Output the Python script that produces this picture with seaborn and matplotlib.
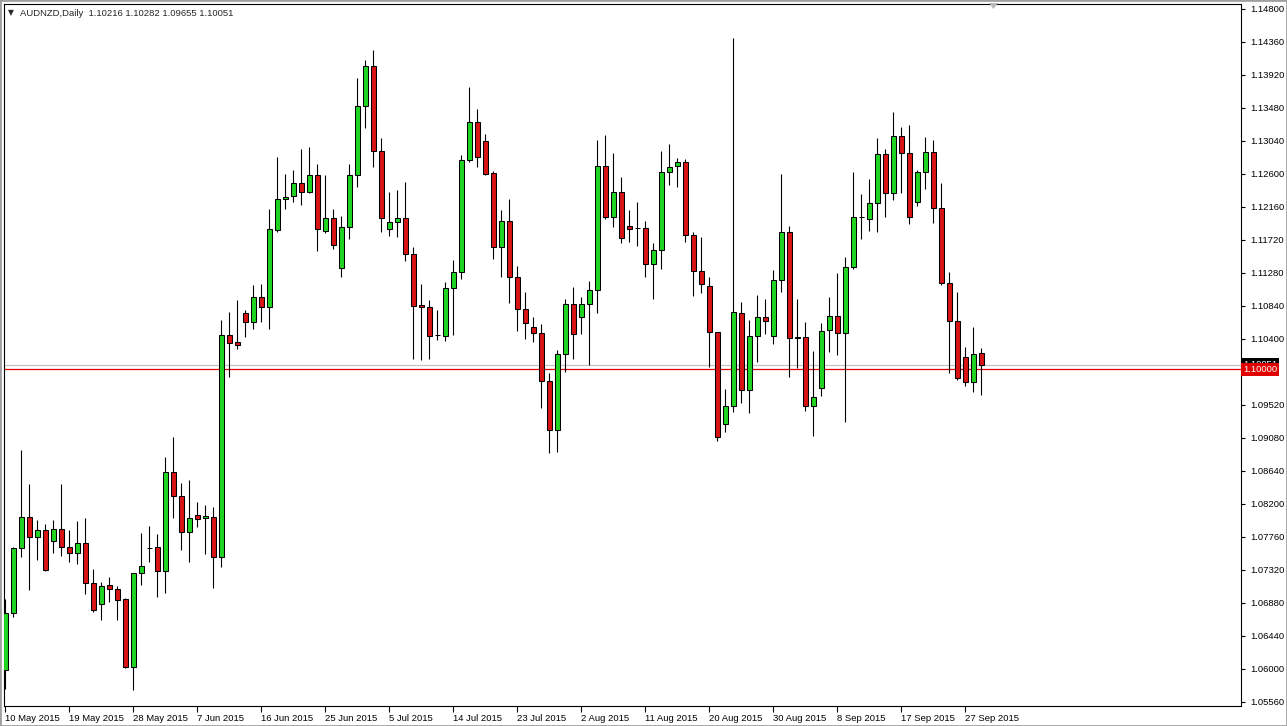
import numpy as np
import pandas as pd
import matplotlib
matplotlib.use("Agg")
import matplotlib.pyplot as plt
import matplotlib.transforms as mtransforms
from matplotlib.patches import Rectangle, Polygon
import seaborn as sns

sns.set_style("white")
plt.rcParams["font.family"] = ["Liberation Sans", "DejaVu Sans"]

# AUDNZD daily bars (10 May 2015 - 29 Sep 2015, Sunday bars included)
opens = [1.0599, 1.0675, 1.0761, 1.0802, 1.0776, 1.0785, 1.0771, 1.0786, 1.0763, 1.0754,
         1.0768, 1.0715, 1.0686, 1.0712, 1.0707, 1.0693, 1.0603, 1.0728, 1.0761, 1.0762,
         1.0730, 1.0863, 1.0830, 1.0782, 1.0805, 1.0801, 1.0803, 1.0749, 1.1045, 1.1036,
         1.1074, 1.1062, 1.1096, 1.1083, 1.1185, 1.1226, 1.1231, 1.1248, 1.1236, 1.1259,
         1.1184, 1.1201, 1.1134, 1.1189, 1.1259, 1.1351, 1.1404, 1.1290, 1.1186, 1.1196,
         1.1201, 1.1153, 1.1085, 1.1082, 1.1045, 1.1044, 1.1108, 1.1129, 1.1278, 1.1329,
         1.1304, 1.1261, 1.1163, 1.1197, 1.1123, 1.1080, 1.1056, 1.1048, 1.0984, 1.0918,
         1.1020, 1.1087, 1.1069, 1.1087, 1.1105, 1.1271, 1.1202, 1.1236, 1.1190, 1.1188,
         1.1188, 1.1140, 1.1158, 1.1262, 1.1270, 1.1276, 1.1178, 1.1130, 1.1111, 1.1049,
         1.0926, 1.0950, 1.1075, 1.0972, 1.1044, 1.1069, 1.1044, 1.1118, 1.1183, 1.1041,
         1.1043, 1.0951, 1.0974, 1.1052, 1.1070, 1.1048, 1.1136, 1.1202, 1.1200, 1.1221,
         1.1287, 1.1235, 1.1311, 1.1288, 1.1222, 1.1262, 1.1289, 1.1214, 1.1115, 1.1064,
         1.1016, 1.0982, 1.10216]
highs = [1.0693, 1.0763, 1.0892, 1.0847, 1.0799, 1.0793, 1.0799, 1.0847, 1.0785, 1.0797,
         1.0801, 1.0733, 1.0716, 1.0723, 1.0711, 1.0695, 1.0728, 1.0781, 1.0791, 1.0780,
         1.0883, 1.0909, 1.0848, 1.0852, 1.0823, 1.0819, 1.0816, 1.1065, 1.1076, 1.1092,
         1.1079, 1.1112, 1.1113, 1.1213, 1.1283, 1.1260, 1.1265, 1.1293, 1.1296, 1.1273,
         1.1259, 1.1213, 1.1204, 1.1274, 1.1388, 1.1412, 1.1425, 1.1308, 1.1236, 1.1239,
         1.1250, 1.1163, 1.1114, 1.1092, 1.1079, 1.1116, 1.1145, 1.1285, 1.1376, 1.1347,
         1.1313, 1.1264, 1.1212, 1.1227, 1.1137, 1.1102, 1.1069, 1.1060, 1.0995, 1.1025,
         1.1093, 1.1110, 1.1096, 1.1118, 1.1305, 1.1312, 1.1288, 1.1256, 1.1212, 1.1223,
         1.1198, 1.1168, 1.1291, 1.1300, 1.1281, 1.1280, 1.1182, 1.1176, 1.1122, 1.1050,
         1.0973, 1.1441, 1.1090, 1.1065, 1.1099, 1.1093, 1.1132, 1.1260, 1.1191, 1.1093,
         1.1063, 1.1024, 1.1061, 1.1096, 1.1128, 1.1149, 1.1262, 1.1233, 1.1254, 1.1308,
         1.1293, 1.1342, 1.1322, 1.1325, 1.1265, 1.1309, 1.1305, 1.1248, 1.1129, 1.1102,
         1.1030, 1.1056, 1.10282]
lows = [1.0574, 1.0669, 1.0750, 1.0705, 1.0745, 1.0731, 1.0755, 1.0751, 1.0742, 1.0740,
        1.0700, 1.0676, 1.0665, 1.0689, 1.0665, 1.0601, 1.0572, 1.0712, 1.0743, 1.0696,
        1.0701, 1.0801, 1.0759, 1.0742, 1.0790, 1.0753, 1.0708, 1.0736, 1.0989, 1.1026,
        1.1043, 1.1054, 1.1063, 1.1054, 1.1182, 1.1213, 1.1223, 1.1219, 1.1235, 1.1158,
        1.1181, 1.1160, 1.1122, 1.1173, 1.1243, 1.1321, 1.1269, 1.1183, 1.1177, 1.1176,
        1.1144, 1.1014, 1.1012, 1.1014, 1.1039, 1.1038, 1.1045, 1.1120, 1.1276, 1.1269,
        1.1259, 1.1147, 1.1123, 1.1088, 1.1051, 1.1040, 1.1036, 1.0948, 1.0888, 1.0890,
        1.0996, 1.1014, 1.1047, 1.1005, 1.1075, 1.1200, 1.1189, 1.1168, 1.1170, 1.1164,
        1.1123, 1.1093, 1.1133, 1.1245, 1.1242, 1.1170, 1.1098, 1.1101, 1.1002, 1.0904,
        1.0916, 1.0943, 1.0955, 1.0941, 1.1010, 1.1046, 1.1033, 1.1102, 1.0989, 1.1001,
        1.0944, 1.0911, 1.0964, 1.1023, 1.1019, 1.0930, 1.1134, 1.1174, 1.1184, 1.1183,
        1.1203, 1.1225, 1.1235, 1.1194, 1.1217, 1.1240, 1.1195, 1.1112, 1.0995, 1.0986,
        1.0977, 1.0970, 1.09655]
closes = [1.0675, 1.0761, 1.0802, 1.0776, 1.0785, 1.0732, 1.0786, 1.0762, 1.0754, 1.0768,
          1.0715, 1.0679, 1.0711, 1.0707, 1.0692, 1.0603, 1.0728, 1.0737, 1.0761, 1.0730,
          1.0863, 1.0830, 1.0782, 1.0801, 1.0800, 1.0804, 1.0749, 1.1045, 1.1035, 1.1032,
          1.1063, 1.1096, 1.1083, 1.1186, 1.1226, 1.1229, 1.1248, 1.1236, 1.1259, 1.1186,
          1.1201, 1.1165, 1.1189, 1.1259, 1.1351, 1.1404, 1.1290, 1.1201, 1.1196, 1.1201,
          1.1153, 1.1084, 1.1082, 1.1044, 1.1045, 1.1108, 1.1129, 1.1279, 1.1329, 1.1283,
          1.1260, 1.1163, 1.1197, 1.1123, 1.1080, 1.1061, 1.1048, 1.0984, 1.0918, 1.1020,
          1.1087, 1.1046, 1.1087, 1.1105, 1.1271, 1.1202, 1.1236, 1.1174, 1.1187, 1.1188,
          1.1140, 1.1158, 1.1262, 1.1269, 1.1276, 1.1178, 1.1130, 1.1113, 1.1049, 1.0909,
          1.0950, 1.1076, 1.0972, 1.1044, 1.1069, 1.1064, 1.1118, 1.1183, 1.1041, 1.1043,
          1.0951, 1.0962, 1.1051, 1.1071, 1.1048, 1.1136, 1.1202, 1.1202, 1.1221, 1.1287,
          1.1235, 1.1311, 1.1288, 1.1203, 1.1263, 1.1289, 1.1214, 1.1115, 1.1064, 1.0988,
          1.0983, 1.1020, 1.10051]

date_ticks = [0, 8, 16, 24, 32, 40, 48, 56, 64, 72, 80, 88, 96, 104, 112, 120]
date_labels = ["10 May 2015", "19 May 2015", "28 May 2015", "7 Jun 2015", "16 Jun 2015",
               "25 Jun 2015", "5 Jul 2015", "14 Jul 2015", "23 Jul 2015", "2 Aug 2015",
               "11 Aug 2015", "20 Aug 2015", "30 Aug 2015", "8 Sep 2015", "17 Sep 2015",
               "27 Sep 2015"]
price_ticks = [1.14800, 1.14360, 1.13920, 1.13480, 1.13040, 1.12600, 1.12160, 1.11720,
               1.11280, 1.10840, 1.10400, 1.09520, 1.09080, 1.08640, 1.08200, 1.07760,
               1.07320, 1.06880, 1.06440, 1.06000, 1.05560]
hline_level = 1.10000
bid_level = 1.10051
title = "AUDNZD,Daily  1.10216 1.10282 1.09655 1.10051"

df = pd.DataFrame({"open": opens, "high": highs, "low": lows, "close": closes})
df["bar"] = np.arange(len(df))
df["up"] = df["close"] >= df["open"]
df["body_lo"] = df[["open", "close"]].min(axis=1)
df["body_h"] = (df["close"] - df["open"]).abs()

W, H = 1287, 726
fig = plt.figure(figsize=(W / 100, H / 100), dpi=100)
fig.patch.set_facecolor("white")
ax = fig.add_axes([4 / W, 20 / H, 1237 / W, 702 / H])

green = "#22d422"
red = "#d81414"

# wicks then bodies
ax.vlines(df["bar"], df["low"], df["high"], color="black", lw=0.8, zorder=2)
ax.bar(df["bar"], df["body_h"], bottom=df["body_lo"], width=0.62,
       color=np.where(df["up"], green, red), edgecolor="black", linewidth=0.75, zorder=3)

ax.axhline(bid_level, color="#c4c4c4", lw=0.9, zorder=1)
ax.axhline(hline_level, color="#e00000", lw=0.9, zorder=1)

ax.set_xlim((4 - 5.3) / 8, (1241 - 5.3) / 8)
ax.set_ylim(1.148 - 697 / 7500, 1.148 + 5 / 7500)

ax.yaxis.tick_right()
ax.set_yticks(price_ticks)
ax.set_yticklabels([f"{p:.5f}" for p in price_ticks])
ax.set_xticks(date_ticks)
ax.set_xticklabels(date_labels, ha="left")
offset = mtransforms.ScaledTranslation(1 / 100, 0, fig.dpi_scale_trans)
for lab in ax.get_xticklabels():
    lab.set_transform(lab.get_transform() + offset)
ax.tick_params(axis="y", which="both", right=True, left=False, direction="out",
               length=3, width=0.8, labelsize=6.8, pad=4, colors="black")
ax.tick_params(axis="x", which="both", bottom=True, direction="out",
               length=4, width=0.8, labelsize=6.8, pad=2, colors="black")
ax.set_xlabel("")
ax.set_ylabel("")
for s in ax.spines.values():
    s.set_color("black")
    s.set_linewidth(0.8)

# price labels on the right axis
trans = mtransforms.blended_transform_factory(ax.transAxes, ax.transData)
ax.text(1.0 + 2 / 1237, bid_level + 0.00008, f"{bid_level:.5f}", transform=trans,
        color="white", fontsize=6.8, va="center", ha="left", clip_on=False,
        bbox=dict(boxstyle="square,pad=0.2", fc="black", ec="none"), zorder=5)
ax.text(1.0 + 2 / 1237, hline_level - 0.00002, f"{hline_level:.5f}", transform=trans,
        color="white", fontsize=6.8, va="center", ha="left", clip_on=False,
        bbox=dict(boxstyle="square,pad=0.2", fc="#e00000", ec="none"), zorder=6)

# title line
fig.text(8 / W, 1 - 13 / H, "\u25bc", fontsize=5.5, family=["DejaVu Sans"], va="center")
fig.text(20 / W, 1 - 13 / H, title, fontsize=6.8, va="center")

# chart shift marker
fig.patches.append(Polygon([[989 / W, 1 - 3 / H], [998 / W, 1 - 3 / H], [993.5 / W, 1 - 9 / H]],
                           closed=True, transform=fig.transFigure, fc="#b8b8b8", ec="none"))
# window border
fig.patches.append(Rectangle((0, 0), 1, 1, transform=fig.transFigure, fill=False,
                             ec="#a0a0a0", lw=2))

fig.savefig("out.png", dpi=100)
